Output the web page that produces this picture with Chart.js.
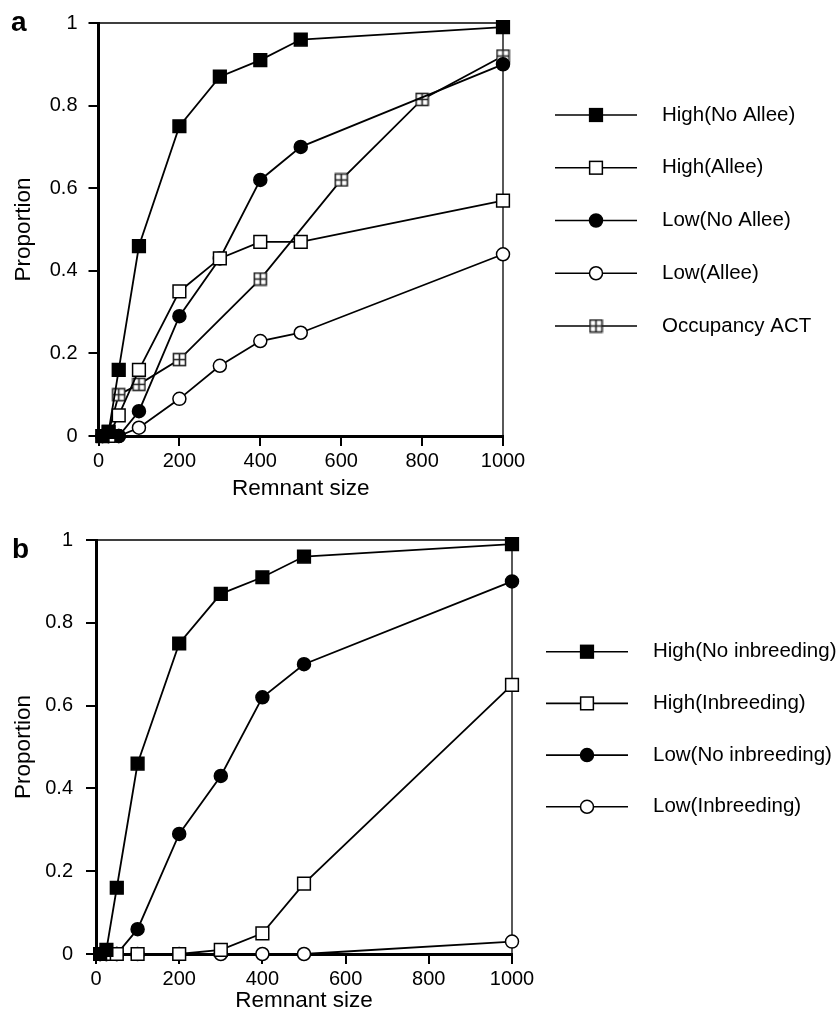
<!DOCTYPE html>
<html>
<head>
<meta charset="utf-8">
<script src="https://cdn.jsdelivr.net/npm/chart.js@4/dist/chart.umd.min.js"></script>
<style>
  html, body { margin: 0; padding: 0; background: #fff; }
  #wrap { position: relative; width: 837px; height: 1024px; }
  .panel { position: absolute; left: 0; width: 837px; height: 512px; }
</style>
</head>
<body>
<div id="wrap">
  <div class="panel" style="top:0"><canvas id="chartA" width="837" height="512"></canvas></div>
  <div class="panel" style="top:512px"><canvas id="chartB" width="837" height="512"></canvas></div>
</div>
<script>
// 目盛り
const xTicks = [0, 200, 400, 600, 800, 1000];
const yTicks = [0, 0.2, 0.4, 0.6, 0.8, 1];

// パネル a
const sizeA = [10, 25, 50, 100, 200, 300, 400, 500, 1000];
const highNoAllee = [0, 0.01, 0.16, 0.46, 0.75, 0.87, 0.91, 0.96, 0.99];
const highAllee = [0, 0, 0.05, 0.16, 0.35, 0.43, 0.47, 0.47, 0.57];
const lowNoAllee = [0, 0, 0, 0.06, 0.29, 0.43, 0.62, 0.70, 0.90];
const lowAllee = [0, 0, 0, 0.02, 0.09, 0.17, 0.23, 0.25, 0.44];
const sizeAct = [10, 25, 50, 100, 200, 400, 600, 800, 1000];
const occupancyAct = [0, 0.01, 0.10, 0.125, 0.185, 0.38, 0.62, 0.815, 0.92];

// パネル b
const sizeB = [10, 25, 50, 100, 200, 300, 400, 500, 1000];
const highNoInb = [0, 0.01, 0.16, 0.46, 0.75, 0.87, 0.91, 0.96, 0.99];
const highInb = [0, 0, 0, 0, 0, 0.01, 0.05, 0.17, 0.65];
const lowNoInb = [0, 0, 0, 0.06, 0.29, 0.43, 0.62, 0.70, 0.90];
const lowInb = [0, 0, 0, 0, 0, 0, 0, 0, 0.03];

const FONT = '"Liberation Sans", Arial, Helvetica, sans-serif';

// 十字入りの四角マーカー (Occupancy ACT)
function makeCrossSquare() {
  const c = document.createElement('canvas');
  c.width = 15; c.height = 15;
  const g = c.getContext('2d');
  g.fillStyle = '#fff';
  g.fillRect(1, 1, 13, 13);
  g.strokeStyle = '#222';
  g.lineWidth = 1.6;
  g.strokeRect(1.5, 1.5, 12, 12);
  g.beginPath();
  g.moveTo(7.5, 1.5); g.lineTo(7.5, 13.5);
  g.moveTo(1.5, 7.5); g.lineTo(13.5, 7.5);
  g.stroke();
  return c;
}
const crossSquare = makeCrossSquare();

const markers = {
  filledSquare: { pointStyle: 'rect', pointRadius: 9, pointBackgroundColor: '#000' },
  openSquare: { pointStyle: 'rect', pointRadius: 9, pointBackgroundColor: '#fff' },
  filledCircle: { pointStyle: 'circle', pointRadius: 6.5, pointBackgroundColor: '#000' },
  openCircle: { pointStyle: 'circle', pointRadius: 6.5, pointBackgroundColor: '#fff' },
  crossSquare: { pointStyle: crossSquare, pointRadius: 7, pointBackgroundColor: '#fff' }
};

function series(label, xs, ys, marker) {
  return {
    label: label,
    data: xs.map((x, i) => ({ x: x, y: ys[i] })),
    borderColor: '#000',
    borderWidth: 1.8,
    tension: 0,
    fill: false,
    clip: false,
    pointBorderColor: '#000',
    pointBorderWidth: 1.5,
    pointHoverRadius: markers[marker].pointRadius,
    ...markers[marker]
  };
}

// 枠の上辺と右辺 (細線)
const frameLines = {
  id: 'frameLines',
  beforeDatasetsDraw(chart) {
    const { ctx, chartArea: a } = chart;
    ctx.save();
    ctx.strokeStyle = '#000';
    ctx.lineWidth = 1.3;
    ctx.beginPath();
    ctx.moveTo(a.left, a.top);
    ctx.lineTo(a.right, a.top);
    ctx.lineTo(a.right, a.bottom);
    ctx.stroke();
    ctx.restore();
  }
};

// 右側の凡例とパネル記号
const sideLegend = {
  id: 'sideLegend',
  afterDraw(chart, args, opts) {
    const ctx = chart.ctx;
    ctx.save();
    chart.data.datasets.forEach((ds, i) => {
      const y = opts.top + i * opts.step;
      ctx.strokeStyle = '#000';
      ctx.lineWidth = 1.6;
      ctx.beginPath();
      ctx.moveTo(opts.x0, y);
      ctx.lineTo(opts.x1, y);
      ctx.stroke();

      ctx.lineWidth = ds.pointBorderWidth;
      ctx.fillStyle = ds.pointBackgroundColor;
      ctx.strokeStyle = ds.pointBorderColor;
      const style = ds.pointStyle;
      const r = ds.pointRadius;
      if (style === 'rect') {
        const h = r * Math.SQRT1_2;
        ctx.fillRect(opts.xm - h, y - h, 2 * h, 2 * h);
        ctx.strokeRect(opts.xm - h, y - h, 2 * h, 2 * h);
      } else if (style === 'circle') {
        ctx.beginPath();
        ctx.arc(opts.xm, y, r, 0, Math.PI * 2);
        ctx.fill();
        ctx.stroke();
      } else {
        ctx.drawImage(style, opts.xm - style.width / 2, y - style.height / 2);
      }

      ctx.fillStyle = '#000';
      ctx.font = '20.5px ' + FONT;
      ctx.textAlign = 'left';
      ctx.textBaseline = 'middle';
      ctx.fillText(ds.label, opts.xt, y);
    });

    ctx.fillStyle = '#000';
    ctx.font = 'bold 28px ' + FONT;
    ctx.textAlign = 'left';
    ctx.textBaseline = 'alphabetic';
    ctx.fillText(opts.letter, opts.lx, opts.ly);
    ctx.restore();
  }
};

function makeChart(id, datasets, box, legend) {
  const ctx = document.getElementById(id).getContext('2d');
  return new Chart(ctx, {
    type: 'line',
    data: { datasets: datasets },
    plugins: [frameLines, sideLegend],
    options: {
      responsive: false,
      animation: false,
      devicePixelRatio: 1,
      layout: { padding: { left: 0, top: box.top, right: 837 - box.right, bottom: 0 } },
      scales: {
        x: {
          type: 'linear',
          min: 0,
          max: 1000,
          afterBuildTicks: s => { s.ticks = xTicks.map(v => ({ value: v })); },
          afterFit: s => { s.height = 512 - box.bottom; },
          ticks: {
            color: '#000',
            font: { size: 20, family: FONT },
            padding: 3,
            maxRotation: 0,
            autoSkip: false,
            callback: v => String(v)
          },
          grid: { drawOnChartArea: false, drawTicks: true, tickLength: 10, color: '#000', lineWidth: 2 },
          border: { color: '#000', width: 3 },
          title: {
            display: true,
            text: 'Remnant size',
            color: '#000',
            font: { size: 22.5, family: FONT },
            padding: { top: 0, bottom: 10 }
          }
        },
        y: {
          type: 'linear',
          min: 0,
          max: 1,
          afterBuildTicks: s => { s.ticks = yTicks.map(v => ({ value: v })); },
          afterFit: s => { s.width = box.left; },
          ticks: {
            color: '#000',
            font: { size: 20, family: FONT },
            padding: box.tickPad,
            callback: v => String(Math.round(v * 10) / 10)
          },
          grid: { drawOnChartArea: false, drawTicks: true, tickLength: 10, color: '#000', lineWidth: 2 },
          border: { color: '#000', width: 3 },
          title: {
            display: true,
            text: 'Proportion',
            color: '#000',
            font: { size: 22.5, family: FONT },
            padding: { top: 10, bottom: 0 }
          }
        }
      },
      plugins: {
        legend: { display: false },
        tooltip: { enabled: false },
        sideLegend: legend
      }
    }
  });
}

makeChart('chartA', [
  series('High(No Allee)', sizeA, highNoAllee, 'filledSquare'),
  series('High(Allee)', sizeA, highAllee, 'openSquare'),
  series('Low(No Allee)', sizeA, lowNoAllee, 'filledCircle'),
  series('Low(Allee)', sizeA, lowAllee, 'openCircle'),
  series('Occupancy ACT', sizeAct, occupancyAct, 'crossSquare')
], { left: 98.5, right: 503, top: 19, bottom: 436, tickPad: 11 },
   { x0: 555, x1: 637, xm: 596, xt: 662, top: 115, step: 52.75, letter: 'a', lx: 11, ly: 31 });

makeChart('chartB', [
  series('High(No inbreeding)', sizeB, highNoInb, 'filledSquare'),
  series('High(Inbreeding)', sizeB, highInb, 'openSquare'),
  series('Low(No inbreeding)', sizeB, lowNoInb, 'filledCircle'),
  series('Low(Inbreeding)', sizeB, lowInb, 'openCircle')
], { left: 96, right: 512, top: 28, bottom: 442, tickPad: 13 },
   { x0: 546, x1: 628, xm: 587, xt: 653, top: 139.7, step: 51.7, letter: 'b', lx: 12, ly: 46 });
</script>
</body>
</html>
